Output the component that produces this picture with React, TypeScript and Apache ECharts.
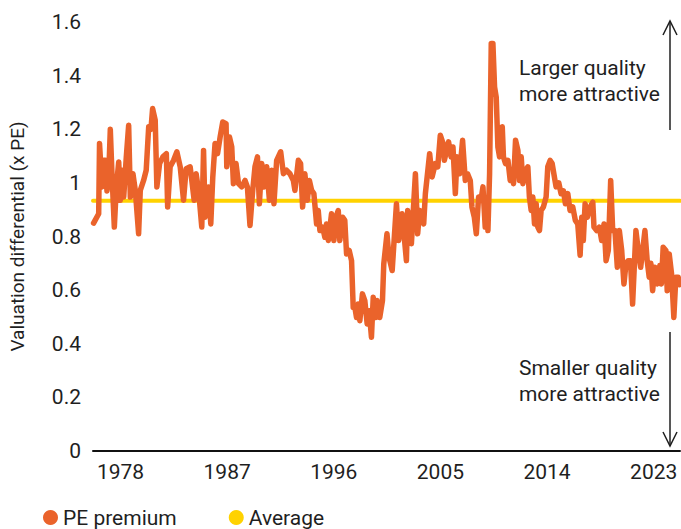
import React, { useEffect, useRef } from "react";
import * as echarts from "echarts";

const years: number[] = [
  1975.73, 1976.16, 1976.23, 1976.44, 1976.59, 1976.72, 1976.86, 1977.01, 1977.14, 1977.28,
  1977.48, 1977.65, 1977.85, 1977.98, 1978.13, 1978.27, 1978.49, 1978.69, 1978.83, 1979.05,
  1979.25, 1979.53, 1979.67, 1979.95, 1980.17, 1980.38, 1980.57, 1980.71, 1980.93, 1981.07,
  1981.30, 1981.58, 1981.87, 1981.98, 1982.19, 1982.48, 1982.76, 1983.04, 1983.32, 1983.54,
  1983.88, 1984.22, 1984.38, 1984.59, 1984.86, 1985.01, 1985.14, 1985.43, 1985.62, 1985.79,
  1985.98, 1986.19, 1986.41, 1986.63, 1986.91, 1986.97, 1987.20, 1987.39, 1987.53, 1987.75,
  1987.96, 1988.23, 1988.51, 1988.71, 1988.93, 1989.16, 1989.35, 1989.56, 1989.72, 1989.92,
  1990.11, 1990.34, 1990.57, 1990.76, 1990.95, 1991.18, 1991.52, 1991.75, 1992.02, 1992.30,
  1992.59, 1992.72, 1993.01, 1993.20, 1993.37, 1993.56, 1993.77, 1993.94, 1994.13, 1994.32,
  1994.55, 1994.69, 1994.83, 1995.06, 1995.25, 1995.39, 1995.54, 1995.81, 1996.01, 1996.18,
  1996.38, 1996.51, 1996.74, 1996.93, 1997.08, 1997.30, 1997.50, 1997.64, 1997.78, 1997.92,
  1998.06, 1998.20, 1998.42, 1998.62, 1998.82, 1998.99, 1999.18, 1999.33, 1999.54, 1999.66,
  1999.88, 2000.11, 2000.22, 2000.49, 2000.66, 2000.93, 2001.29, 2001.48, 2001.77, 2002.13,
  2002.24, 2002.55, 2002.89, 2003.08, 2003.25, 2003.59, 2003.73, 2004.09, 2004.30, 2004.57,
  2004.78, 2004.99, 2005.22, 2005.33, 2005.69, 2005.90, 2006.06, 2006.26, 2006.40, 2006.62,
  2006.87, 2007.10, 2007.29, 2007.52, 2007.66, 2007.86, 2008.03, 2008.22, 2008.42, 2008.59,
  2008.78, 2008.93, 2009.01, 2009.15, 2009.29, 2009.43, 2009.57, 2009.71, 2009.85, 2009.99,
  2010.22, 2010.32, 2010.49, 2010.70, 2010.89, 2011.06, 2011.17, 2011.34, 2011.54, 2011.67,
  2011.82, 2011.96, 2012.18, 2012.38, 2012.51, 2012.66, 2012.80, 2012.94, 2013.08, 2013.22,
  2013.36, 2013.50, 2013.69, 2013.92, 2014.06, 2014.26, 2014.43, 2014.62, 2014.76, 2014.99,
  2015.18, 2015.38, 2015.55, 2015.75, 2015.94, 2016.17, 2016.39, 2016.59, 2016.79, 2016.93,
  2017.06, 2017.21, 2017.40, 2017.63, 2017.86, 2017.96, 2018.19, 2018.41, 2018.61, 2018.81,
  2018.98, 2019.17, 2019.37, 2019.54, 2019.73, 2019.93, 2020.10, 2020.30, 2020.49, 2020.66,
  2020.85, 2021.04, 2021.22, 2021.36, 2021.50, 2021.70, 2021.90, 2022.07, 2022.26, 2022.45,
  2022.62, 2022.76, 2022.91, 2023.10, 2023.30, 2023.52, 2023.65, 2023.80, 2024.03, 2024.14,
  2024.31, 2024.51, 2024.70, 2024.87, 2025.07, 2025.17,
];

const pePremium: number[] = [
  0.85, 0.885, 1.147, 0.985, 1.084, 1.084, 0.97, 1.034, 1.2, 1.035,
  0.835, 0.985, 1.078, 0.935, 1.047, 0.947, 1.097, 1.215, 0.947, 1.034,
  0.972, 0.81, 0.972, 1.009, 1.047, 1.209, 1.2, 1.277, 1.234, 0.985,
  1.072, 1.097, 1.109, 0.91, 1.06, 1.084, 1.116, 1.06, 0.935, 1.053,
  1.06, 0.935, 1.034, 0.972, 0.835, 1.121, 0.872, 0.985, 0.847, 1.022,
  1.147, 1.109, 1.171, 1.227, 1.221, 1.06, 1.171, 1.134, 0.997, 1.072,
  0.997, 0.985, 1.009, 0.985, 0.841, 0.972, 1.06, 1.097, 0.922, 1.072,
  0.985, 1.06, 0.935, 1.047, 0.922, 1.084, 1.116, 1.034, 1.047, 1.034,
  1.009, 0.972, 1.084, 1.072, 0.91, 1.034, 0.935, 1.009, 0.972, 0.96,
  0.847, 0.897, 0.822, 0.835, 0.797, 0.847, 0.785, 0.885, 0.785, 0.872,
  0.897, 0.785, 0.872, 0.86, 0.735, 0.748, 0.71, 0.536, 0.536, 0.498,
  0.548, 0.486, 0.586, 0.561, 0.474, 0.523, 0.424, 0.573, 0.498, 0.561,
  0.498, 0.561, 0.698, 0.81, 0.723, 0.673, 0.922, 0.785, 0.885, 0.71,
  0.897, 0.773, 1.034, 0.81, 0.897, 0.847, 0.96, 1.109, 1.022, 1.072,
  1.06, 1.178, 1.147, 1.084, 1.153, 1.097, 1.134, 0.96, 1.097, 1.034,
  1.159, 1.009, 1.034, 1.009, 0.91, 0.872, 0.81, 0.947, 0.935, 0.985,
  0.835, 0.922, 0.822, 1.034, 1.52, 1.52, 1.358, 1.32, 1.134, 1.097,
  1.209, 1.097, 1.072, 1.084, 1.009, 1.047, 0.997, 1.159, 1.121, 1.009,
  1.097, 0.997, 1.047, 1.06, 0.947, 0.897, 0.947, 0.847, 0.922, 0.835,
  0.822, 0.897, 0.91, 0.947, 1.06, 1.084, 1.072, 1.022, 0.985, 1.0,
  0.96, 0.97, 0.922, 0.96, 0.897, 0.91, 0.86, 0.847, 0.73, 0.872,
  0.785, 0.922, 0.872, 0.91, 0.928, 0.835, 0.822, 0.835, 0.785, 0.847,
  0.71, 0.748, 1.009, 0.822, 0.822, 0.685, 0.822, 0.748, 0.623, 0.698,
  0.71, 0.71, 0.548, 0.685, 0.822, 0.748, 0.685, 0.748, 0.822, 0.71,
  0.648, 0.7, 0.598, 0.685, 0.623, 0.692, 0.623, 0.76, 0.748, 0.598,
  0.735, 0.66, 0.498, 0.648, 0.648, 0.62,
];

const averageValue = 0.933;
const xStart = 1975.68;
const xEnd = 2025.22;
const xTickLabels: number[] = [1978, 1987, 1996, 2005, 2014, 2023];
const yTicks: string[] = ["0", "0.2", "0.4", "0.6", "0.8", "1", "1.2", "1.4", "1.6"];
const seriesNames: string[] = ["PE premium", "Average"];
const yAxisTitle = "Valuation differential (x PE)";
const upperNote = "Larger quality\nmore attractive";
const lowerNote = "Smaller quality\nmore attractive";

const ORANGE = "#EA632B";
const YELLOW = "#FFD200";
const INK = "#1f1f1f";
const FONT = "Roboto";

export default function App() {
  const ref = useRef<HTMLDivElement>(null);
  useEffect(() => {
    if (!ref.current) return;
    const chart = echarts.init(ref.current, undefined, { renderer: "svg" });
    const peData = years.map((y, i) => [y, pePremium[i]]);
    const avgData = [
      [xStart, averageValue],
      [xEnd, averageValue],
    ];
    chart.setOption({
      animation: false,
      textStyle: { fontFamily: FONT },
      grid: { left: 92, right: 1, top: 22, bottom: 78 },
      legend: {
        left: 38,
        top: 502,
        icon: "circle",
        itemWidth: 15,
        itemHeight: 15,
        itemGap: 52,
        data: seriesNames,
        textStyle: { fontSize: 21, color: INK, fontFamily: FONT, padding: [0, 0, 0, 0] },
      },
      xAxis: {
        type: "value",
        min: xStart,
        max: xEnd,
        splitLine: { show: false },
        axisTick: { show: false },
        axisLine: { show: true, lineStyle: { color: "#111", width: 2 } },
        axisLabel: {
          customValues: xTickLabels,
          formatter: (v: number) => String(Math.round(v)),
          fontSize: 21,
          color: INK,
          margin: 10,
          fontFamily: FONT,
        },
      },
      yAxis: {
        type: "value",
        min: 0,
        max: 1.6,
        interval: 0.2,
        name: yAxisTitle,
        nameLocation: "middle",
        nameGap: 66,
        nameTextStyle: { fontSize: 19, color: INK, fontFamily: FONT },
        splitLine: { show: false },
        axisLine: { show: false },
        axisTick: { show: false },
        axisLabel: {
          fontSize: 21,
          color: INK,
          margin: 12,
          fontFamily: FONT,
          formatter: (v: number) => yTicks[Math.round(v / 0.2)] ?? String(v),
        },
      },
      series: [
        {
          name: seriesNames[1],
          type: "line",
          data: avgData,
          showSymbol: false,
          symbol: "circle",
          itemStyle: { color: YELLOW },
          lineStyle: { color: YELLOW, width: 4, cap: "round" },
          z: 2,
        },
        {
          name: seriesNames[0],
          type: "line",
          data: peData,
          showSymbol: false,
          symbol: "circle",
          itemStyle: { color: ORANGE },
          lineStyle: { color: ORANGE, width: 5.5, cap: "round", join: "round" },
          z: 3,
        },
      ],
      graphic: [
        {
          type: "text",
          right: 21,
          top: 55,
          style: {
            text: upperNote,
            fontSize: 21,
            lineHeight: 26,
            fill: INK,
            align: "right",
            fontFamily: FONT,
          },
        },
        {
          type: "text",
          right: 21,
          top: 355,
          style: {
            text: lowerNote,
            fontSize: 21,
            lineHeight: 26,
            fill: INK,
            align: "right",
            fontFamily: FONT,
          },
        },
        {
          type: "line",
          shape: { x1: 670, y1: 21, x2: 670, y2: 130 },
          style: { stroke: INK, lineWidth: 1.5 },
        },
        {
          type: "polyline",
          shape: { points: [[663, 35], [670, 21], [677, 35]] },
          style: { stroke: INK, lineWidth: 1.5, fill: null },
        },
        {
          type: "line",
          shape: { x1: 670, y1: 332, x2: 670, y2: 446 },
          style: { stroke: INK, lineWidth: 1.5 },
        },
        {
          type: "polyline",
          shape: { points: [[663, 432], [670, 446], [677, 432]] },
          style: { stroke: INK, lineWidth: 1.5, fill: null },
        },
      ],
    });
    return () => chart.dispose();
  }, []);
  return <div ref={ref} style={{ width: 681, height: 529, position: "absolute", left: 0, top: 0 }} />;
}
